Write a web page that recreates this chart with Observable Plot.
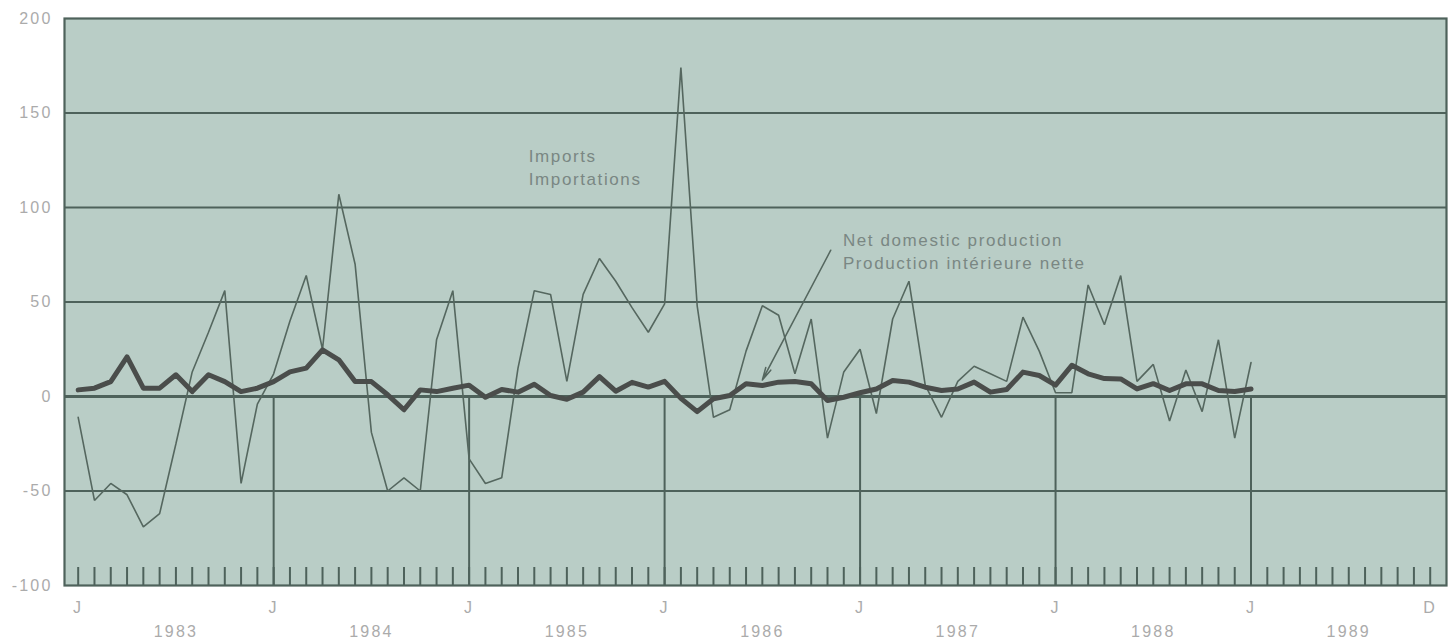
<!DOCTYPE html>
<html>
<head>
<meta charset="utf-8">
<script src="https://cdn.jsdelivr.net/npm/d3@7"></script>
<script src="https://cdn.jsdelivr.net/npm/@observablehq/plot@0.6"></script>
<style>
  body { margin: 0; background: #ffffff; }
</style>
</head>
<body>
<div id="chart"></div>
<script>
// Monthly values, January 1983 to January 1989
const imports = [
  -11, -55, -46, -52, -69, -62, -25, 13, 34, 56, -46, -4,
  12, 40, 64, 25, 107, 70, -19, -50, -43, -50, 30, 56,
  -33, -46, -43, 15, 56, 54, 8, 54, 73, 61, 47, 34,
  49, 174, 48, -11, -7, 24, 48, 43, 12, 41, -22, 13,
  25, -9, 41, 61, 6, -11, 8, 16, 12, 8, 42, 24,
  2, 2, 59, 38, 64, 8, 17, -13, 14, -8, 30, -22,
  18
];
const netDomestic = [
  3.5, 4.4, 7.9, 21, 4.4, 4.4, 11.5, 2.6, 11.5, 7.9, 2.6, 4.4,
  7.9, 13, 15, 24.7, 19.4, 7.9, 7.9, 0.9, -7, 3.5, 2.6, 4.4,
  6, -0.4, 3.7, 2.3, 6.5, 0.5, -1.5, 2.3, 10.5, 2.8, 7.5, 5,
  8, -1, -8, -1.2, 0.5, 6.7, 5.8, 7.6, 7.9, 6.7, -2.1, -0.4,
  2, 4, 8.5, 7.6, 4.9, 3.2, 4, 7.6, 2.3, 3.7, 12.9, 11.1,
  6, 16.5, 12, 9.5, 9.3, 4, 6.8, 3.2, 6.7, 6.7, 3.2, 2.6,
  4
];
const yTicks = [-100, -50, 0, 50, 100, 150, 200];
const gridValues = [-50, 50, 100, 150];
const yearLabels = [1983, 1984, 1985, 1986, 1987, 1988, 1989];
const januaryLines = [1984, 1985, 1986, 1987, 1988, 1989];
const janLabel = "J";
const decLabel = "D";
const seriesLabels = ["Imports\nImportations", "Net domestic production\nProduction intérieure nette"];

// month positions as decimal years (Jan 1983 .. Dec 1989)
const months = d3.utcMonth
  .range(new Date(Date.UTC(1983, 0, 1)), new Date(Date.UTC(1990, 0, 1)))
  .map(d => d.getUTCFullYear() + d.getUTCMonth() / 12);

const rows = imports.map((v, i) => ({t: months[i], imports: v, ndp: netDomestic[i]}));

const notes = [
  {t: 1985.305, v: 122, text: seriesLabels[0]},
  {t: 1986.912, v: 77.3, text: seriesLabels[1]}
];
const pointer = [{t1: 1986.85, v1: 77.4, t2: 1986.50, v2: 8.7}];

const ink = "#4e625b";
const axisInk = "#ababab";

const plot = Plot.plot({
  width: 1452,
  height: 640,
  marginLeft: 64,
  marginRight: 6,
  marginTop: 18,
  marginBottom: 55,
  x: {domain: [1982.93, 1990]},
  y: {domain: [-100, 200]},
  style: {fontFamily: "'Liberation Sans', Arial, sans-serif", background: "#ffffff", letterSpacing: "2.2px"},
  marks: [
    Plot.frame({fill: "#b9cdc6", stroke: null}),
    Plot.tickX(months, {x: d => d, insetTop: 549, stroke: ink, strokeWidth: 2}),
    Plot.ruleX(januaryLines, {x: d => d, y1: -100, y2: 0, stroke: ink, strokeWidth: 2}),
    Plot.ruleY(gridValues, {y: d => d, stroke: ink, strokeWidth: 2.2}),
    Plot.ruleY([0], {y: d => d, stroke: ink, strokeWidth: 3.2}),
    Plot.line(rows, {x: "t", y: "imports", stroke: "#55675f", strokeWidth: 1.6, strokeLinejoin: "miter"}),
    Plot.line(rows, {x: "t", y: "ndp", stroke: "#4a4d4b", strokeWidth: 5, strokeLinejoin: "round"}),
    Plot.text(notes, {x: "t", y: "v", text: "text", textAnchor: "start", lineAnchor: "middle", lineHeight: 1.35, fontSize: 17, fill: "#7a8783"}),
    Plot.arrow(pointer, {x1: "t1", y1: "v1", x2: "t2", y2: "v2", stroke: "#55675f", strokeWidth: 1.5, headLength: 13, headAngle: 25}),
    Plot.frame({stroke: ink, strokeWidth: 2.2}),
    Plot.axisY({ticks: yTicks, tickFormat: d => String(d), tickSize: 0, tickPadding: 12, fontSize: 16, color: axisInk, label: null}),
    Plot.axisX({ticks: yearLabels, tickFormat: () => janLabel, tickSize: 0, tickPadding: 16, fontSize: 16, color: axisInk, label: null}),
    Plot.axisX({ticks: [months[months.length - 1]], tickFormat: () => decLabel, tickSize: 0, tickPadding: 16, fontSize: 16, color: axisInk, label: null}),
    Plot.axisX({ticks: yearLabels.map(y => y + 0.5), tickFormat: d => String(Math.floor(d)), tickSize: 0, tickPadding: 40, fontSize: 16, color: axisInk, label: null})
  ]
});

document.getElementById("chart").append(plot);
d3.select(plot).selectAll('g[aria-label="text"] text').style("letter-spacing", "1.6px");
</script>
</body>
</html>
